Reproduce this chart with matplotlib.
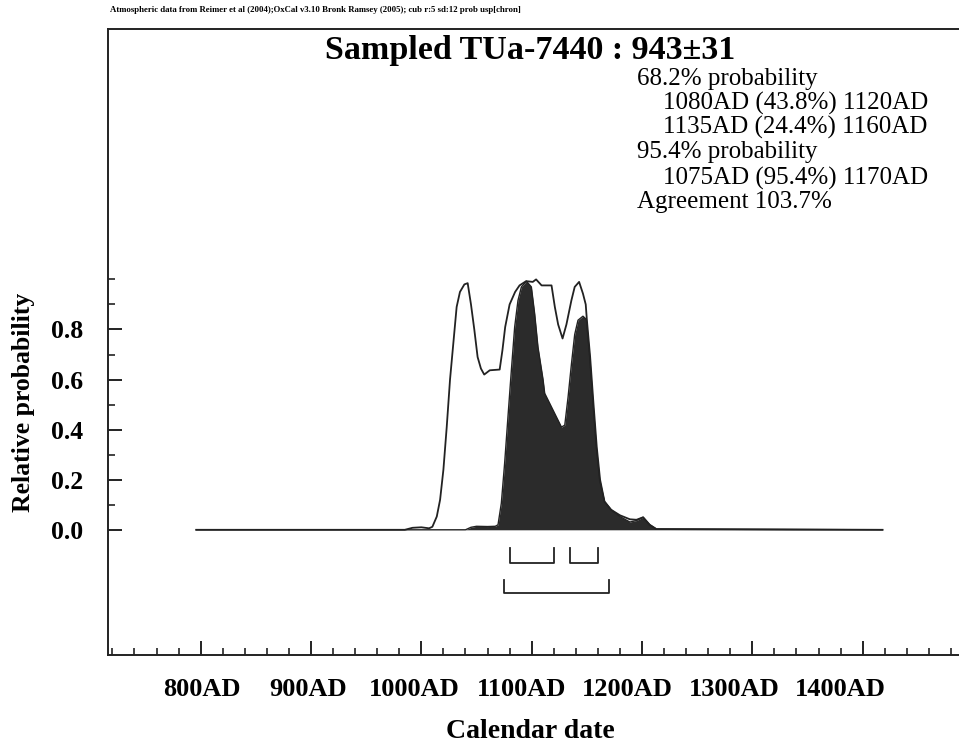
import matplotlib
matplotlib.use("Agg")
import matplotlib.pyplot as plt
import matplotlib.transforms as mtransforms

plt.rcParams['font.family'] = ['Liberation Serif', 'DejaVu Serif']

# ---------data-------------------
# unmodelled likelihood (outline)
prior_year = [796, 985, 992, 1000, 1007, 1010, 1014, 1017, 1020, 1023, 1026, 1029, 1032,
              1035, 1039, 1042, 1045, 1048, 1051, 1054, 1057, 1062, 1071, 1073.5, 1076,
              1080, 1085, 1089, 1095, 1101, 1104, 1109, 1118, 1121, 1124, 1128, 1131.5,
              1136, 1139, 1143, 1146.5, 1149, 1150, 1153, 1156, 1159, 1162, 1166, 1172,
              1180, 1189, 1195, 1201, 1207, 1213, 1418]
prior_prob = [0, 0, 0.008, 0.01, 0.006, 0.012, 0.053, 0.12, 0.24, 0.41, 0.60, 0.745, 0.89,
              0.95, 0.98, 0.985, 0.90, 0.80, 0.69, 0.644, 0.62, 0.637, 0.64, 0.717, 0.81,
              0.90, 0.95, 0.976, 0.993, 0.99, 1.0, 0.976, 0.976, 0.89, 0.82, 0.764, 0.82,
              0.916, 0.97, 0.99, 0.943, 0.90, 0.84, 0.69, 0.505, 0.33, 0.20, 0.113, 0.08,
              0.058, 0.042, 0.04, 0.05, 0.02, 0.003, 0]

# modelled posterior (filled)
post_year = [796, 1040, 1045, 1050, 1060, 1067, 1069.5, 1072.5, 1075.5, 1078.5, 1081.6,
             1084.6, 1087.6, 1090.7, 1095.2, 1099.7, 1102.7, 1105.7, 1110.3, 1111.8, 1118,
             1127, 1130, 1133, 1136, 1139, 1142, 1146.5, 1149.6, 1152.6, 1155.6, 1158.6,
             1161.6, 1166, 1172, 1180, 1189, 1195, 1201, 1207, 1213, 1418]
post_prob = [0, 0, 0.01, 0.014, 0.013, 0.014, 0.02, 0.106, 0.266, 0.45, 0.637,
             0.81, 0.916, 0.97, 0.993, 0.97, 0.863, 0.73, 0.60, 0.545, 0.49,
             0.41, 0.418, 0.53, 0.66, 0.78, 0.837, 0.853, 0.84, 0.69, 0.505, 0.33,
             0.20, 0.113, 0.08, 0.053, 0.031, 0.037, 0.05, 0.02, 0.003, 0]

range68 = [(1080, 1120), (1135, 1160)]
range95 = [(1075, 1170)]

header = ("Atmospheric data from Reimer et al (2004);OxCal v3.10 Bronk Ramsey (2005); "
          "cub r:5 sd:12 prob usp[chron]")
title = "Sampled TUa-7440 : 943\u00b131"
info_lines = [
    ("68.2% probability", 0),
    ("1080AD (43.8%) 1120AD", 1),
    ("1135AD (24.4%) 1160AD", 1),
    ("95.4% probability", 0),
    ("1075AD (95.4%) 1170AD", 1),
    ("Agreement 103.7%", 0),
]
x_major = list(range(800, 1401, 100))
x_labels = ["%dAD" % y for y in x_major]
y_major = [0.0, 0.2, 0.4, 0.6, 0.8]
y_minor = [0.1, 0.3, 0.5, 0.7, 0.9, 1.0]
# ---------------------------------

W, H = 959, 747
fig = plt.figure(figsize=(W / 100, H / 100), dpi=100)
ax = fig.add_axes([108 / W, 1 - 655 / H, 1 - 108 / W, (655 - 29) / H])

ax.fill_between(post_year, post_prob, 0, color="#2b2b2b", linewidth=0)
ax.plot(post_year, post_prob, color="#222222", linewidth=1.0)
ax.plot(prior_year, prior_prob, color="#222222", linewidth=1.3)

# range brackets
def bracket(lo, hi, top, bot):
    ax.plot([lo, lo, hi, hi], [top, bot, bot, top], color="#222222", linewidth=1.3,
            clip_on=False)

for lo, hi in range68:
    bracket(lo, hi, -0.072, -0.131)
for lo, hi in range95:
    bracket(lo, hi, -0.199, -0.251)

ax.set_xlim(716, 716 + (W - 108) / 1.1033)
ax.set_ylim(-0.5, 2.0)

ax.spines["right"].set_visible(False)
for s in ["left", "bottom", "top"]:
    ax.spines[s].set_linewidth(1.4)
    ax.spines[s].set_color("#222222")

ax.set_xticks(x_major)
ax.set_xticklabels([])
ax.set_xticks([y for y in range(720, 1481, 20) if y % 100 != 0], minor=True)
ax.set_yticks(y_major)
ax.set_yticklabels(["%.1f" % v for v in y_major], fontsize=18.5, fontweight="bold")
ax.set_yticks(y_minor, minor=True)
ax.tick_params(axis="both", which="both", direction="in", color="#222222")
ax.tick_params(axis="x", which="major", length=10, width=1.4)
ax.tick_params(axis="x", which="minor", length=5, width=1.2)
ax.tick_params(axis="y", which="major", length=10, width=1.4, pad=18)
ax.tick_params(axis="y", which="minor", length=5, width=1.2)
ax.tick_params(top=False, right=False)

# OxCal spaces its date labels a little tighter than the ticks
trans = mtransforms.blended_transform_factory(ax.transData, fig.transFigure)
for yr, lab in zip(x_major, x_labels):
    ax.text(801 + (yr - 800) * 0.965, 1 - 689 / H, lab, transform=trans,
            fontsize=19, fontweight="bold", ha="center", va="center")

def fx(px):
    return px / W

def fy(py):
    return 1 - py / H

fig.text(fx(110), fy(10), header, fontsize=6.3, fontweight="bold", va="center", ha="left")
fig.text(fx(530), fy(50), title, fontsize=24.5, fontweight="bold", va="center", ha="center")
line_y = [79, 103, 127, 152, 178, 202]
for (txt, indent), py in zip(info_lines, line_y):
    fig.text(fx(637 + 26 * indent), fy(py), txt, fontsize=18, va="center", ha="left")

fig.text(fx(24), fy(402), "Relative probability", fontsize=18.5, fontweight="bold",
         rotation=90, va="center", ha="center")
fig.text(fx(530), fy(731), "Calendar date", fontsize=20, fontweight="bold",
         va="center", ha="center")

fig.savefig("out.png", dpi=100)
